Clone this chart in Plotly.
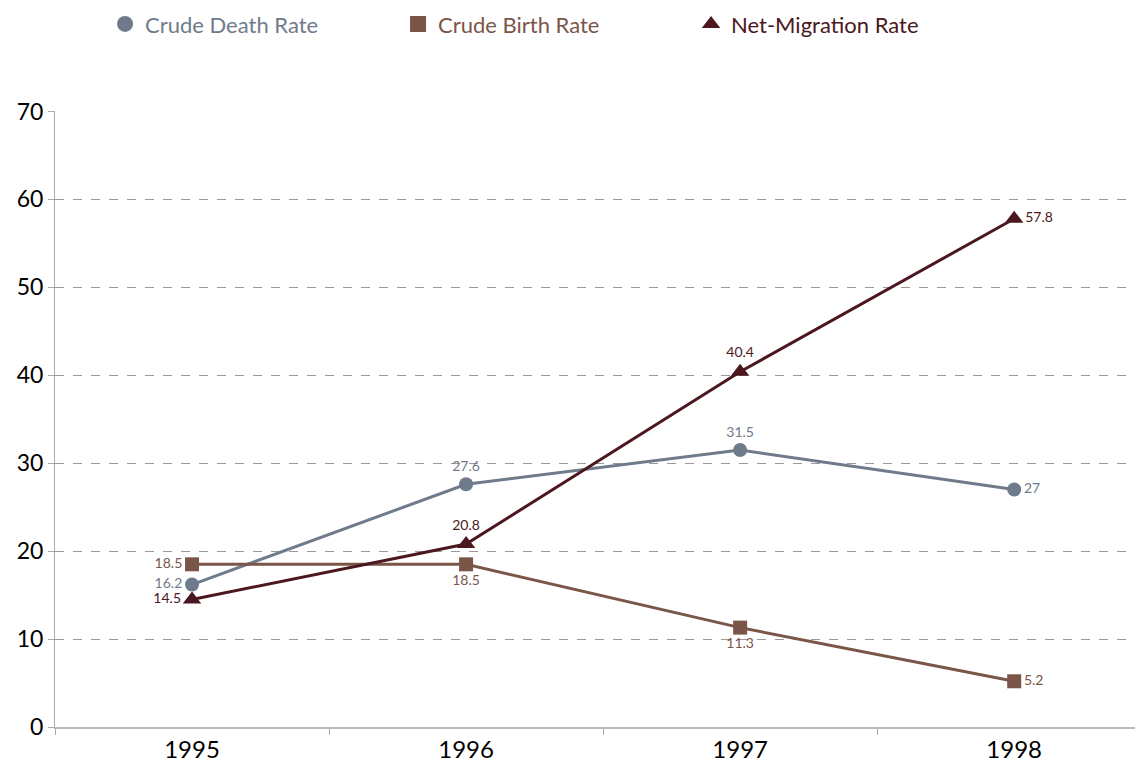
import plotly.graph_objects as go

years = ["1995", "1996", "1997", "1998"]
death_rate = [16.2, 27.6, 31.5, 27]
birth_rate = [18.5, 18.5, 11.3, 5.2]
migration_rate = [14.5, 20.8, 40.4, 57.8]

c_death = "#6f7b8b"
c_birth = "#7a5648"
c_mig = "#4b1820"
FONT = "Lato"

fig = go.Figure()

def add(name, vals, color, symbol, size, pos):
    fig.add_trace(go.Scatter(
        x=years, y=vals, mode="lines+markers+text",
        name=name, showlegend=False,
        line=dict(color=color, width=3),
        marker=dict(color=color, symbol=symbol, size=size),
        text=[str(v) for v in vals], textposition=pos,
        textfont=dict(color=color, size=14, family=FONT),
        cliponaxis=False,
    ))
    # legend entry (marker only)
    fig.add_trace(go.Scatter(
        x=[None], y=[None], mode="markers",
        name=f'<span style="color:{color}">{name}</span>',
        marker=dict(color=color, symbol=symbol, size=16),
        showlegend=True,
    ))

add("Crude Death Rate", death_rate, c_death, "circle", 14,
    ["middle left", "top center", "top center", "middle right"])
add("Crude Birth Rate", birth_rate, c_birth, "square", 14,
    ["middle left", "bottom center", "bottom center", "middle right"])
add("Net-Migration Rate", migration_rate, c_mig, "triangle-up", 16,
    ["middle left", "top center", "top center", "middle right"])

fig.update_layout(
    width=1135, height=761,
    margin=dict(l=47, r=0, t=103, b=42, autoexpand=False),
    paper_bgcolor="white", plot_bgcolor="white",
    font=dict(family=FONT, color="#000"),
    showlegend=True,
    legend=dict(orientation="h", x=0.046, xanchor="left", y=1.141, yanchor="middle",
                font=dict(size=22, family=FONT),
                itemsizing="trace", entrywidth=248, entrywidthmode="pixels",
                traceorder="normal"),
    xaxis=dict(type="category", range=[-0.5, 3.47], tickson="boundaries",
               ticks="outside", ticklen=6, tickcolor="#aaa",
               showline=True, linecolor="#bbb", linewidth=2, automargin=False,
               showgrid=False, tickfont=dict(size=24), zeroline=False),
    yaxis=dict(range=[0, 70.05], tickvals=[0, 10, 20, 30, 40, 50, 60, 70],
               ticks="outside", ticklen=6, tickcolor="#aaa",
               showline=True, linecolor="#aaa", linewidth=1, automargin=False,
               showgrid=True, gridcolor="#999", griddash="dash", gridwidth=1,
               zeroline=False, tickfont=dict(size=23)),
)

fig.write_html("out.html")
